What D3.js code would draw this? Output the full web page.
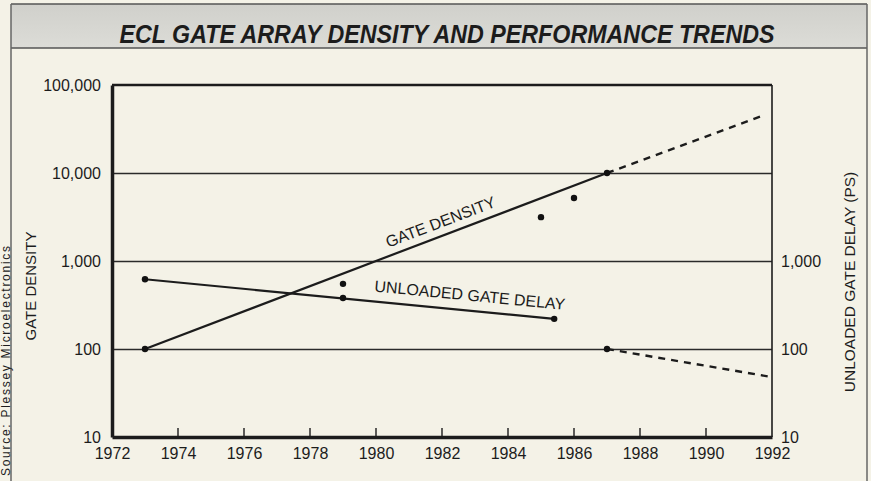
<!DOCTYPE html>
<html>
<head>
<meta charset="utf-8">
<script src="https://cdn.jsdelivr.net/npm/d3@7"></script>
<style>
  html, body { margin: 0; padding: 0; background: #f4f2e7; }
  svg { display: block; }
  text { font-family: "Liberation Sans", Arial, Helvetica, sans-serif; fill: #1c1c1c; }
</style>
</head>
<body>
<svg id="chart" width="871" height="481"></svg>
<script>
// ---- data ----
const yearTicks = [1972, 1974, 1976, 1978, 1980, 1982, 1984, 1986, 1988, 1990, 1992];
const densityTicks = [10, 100, 1000, 10000, 100000];
const delayTicks = [10, 100, 1000];

// gate density (gates per array)
const densityTrend = [[1973, 100], [1987, 10000]];
const densityProjection = [[1987, 10000], [1991.8, 46000]];
const densityPoints = [[1973, 100], [1979, 550], [1985, 3150], [1986, 5200], [1987, 10000]];

// unloaded gate delay (ps)
const delayTrend = [[1973, 620], [1985.4, 220]];
const delayProjection = [[1987, 100], [1992, 48]];
const delayPoints = [[1973, 620], [1979, 380], [1985.4, 220], [1987, 100]];

const titleText = "ECL GATE ARRAY DENSITY AND PERFORMANCE TRENDS";
const sourceText = "Source: Plessey Microelectronics";

// ---- layout ----
const W = 871, H = 481;
const plot = { left: 112, right: 772, top: 85, bottom: 437 };
const ink = "#1c1c1c";
const frameLeft = 11, frameRight = 867;

const svg = d3.select("#chart");

const x = d3.scaleLinear().domain([1972, 1992]).range([plot.left, plot.right]);
const y = d3.scaleLog().domain([10, 100000]).range([plot.bottom, plot.top]);

// background panel and frame
svg.append("rect").attr("width", W).attr("height", H).attr("fill", "#f4f2e7");

const grad = svg.append("defs").append("linearGradient")
  .attr("id", "band").attr("x1", 0).attr("y1", 0).attr("x2", 0).attr("y2", 1);
grad.append("stop").attr("offset", "0%").attr("stop-color", "#d0d0cb");
grad.append("stop").attr("offset", "100%").attr("stop-color", "#dcdcd7");

svg.append("rect").attr("x", frameLeft).attr("y", 4).attr("width", frameRight - frameLeft).attr("height", 44)
  .attr("fill", "url(#band)");
svg.append("line").attr("x1", frameLeft).attr("x2", frameRight).attr("y1", 4).attr("y2", 4)
  .attr("stroke", "#555").attr("stroke-width", 1.5);
svg.append("line").attr("x1", frameLeft).attr("x2", frameRight).attr("y1", 48).attr("y2", 48)
  .attr("stroke", "#555").attr("stroke-width", 1.5);
svg.append("line").attr("x1", frameLeft).attr("x2", frameLeft).attr("y1", 4).attr("y2", H)
  .attr("stroke", "#666").attr("stroke-width", 1.5);
svg.append("line").attr("x1", frameRight).attr("x2", frameRight).attr("y1", 4).attr("y2", H)
  .attr("stroke", "#666").attr("stroke-width", 1.5);

// title
svg.append("text")
  .attr("x", 447).attr("y", 43)
  .attr("text-anchor", "middle")
  .attr("textLength", 655).attr("lengthAdjust", "spacingAndGlyphs")
  .style("font-family", "'Liberation Sans Narrow', 'Arial Narrow', 'Liberation Sans', sans-serif")
  .style("font-size", "25px").style("font-weight", "bold").style("font-style", "italic")
  .attr("fill", "#111")
  .text(titleText);

// source credit along the left edge, outside the frame
svg.append("text")
  .attr("transform", "translate(9.5,246) rotate(-90)")
  .attr("text-anchor", "end")
  .attr("textLength", 230).attr("lengthAdjust", "spacing")
  .style("font-size", "12px")
  .attr("fill", "#777")
  .text(sourceText);

// horizontal decade grid lines
const grid = svg.append("g")
  .attr("transform", `translate(${plot.left},0)`)
  .call(d3.axisLeft(y).tickValues(densityTicks.slice(1, 4)).tickSize(-(plot.right - plot.left)).tickFormat(""));
grid.select(".domain").remove();
grid.selectAll("line").attr("stroke", "#2a2a2a").attr("stroke-width", 1.6);

// top and right borders of the plot
svg.append("line").attr("x1", plot.left).attr("x2", plot.right)
  .attr("y1", plot.top).attr("y2", plot.top).attr("stroke", ink).attr("stroke-width", 2.4);
svg.append("line").attr("x1", plot.right).attr("x2", plot.right)
  .attr("y1", plot.top).attr("y2", plot.bottom).attr("stroke", ink).attr("stroke-width", 1.6);

const tickFont = "16px";

// left axis (gate density)
const leftAxis = svg.append("g")
  .attr("transform", `translate(${plot.left},0)`)
  .call(d3.axisLeft(y).tickValues(densityTicks).tickSize(0).tickPadding(11).tickFormat(d3.format(",")));
leftAxis.select(".domain").attr("stroke", ink).attr("stroke-width", 3.5);
leftAxis.selectAll("text").style("font-size", tickFont).attr("fill", ink)
  .style("font-family", "'Liberation Sans', Arial, sans-serif");

// right axis (unloaded gate delay)
const rightAxis = svg.append("g")
  .attr("transform", `translate(${plot.right},0)`)
  .call(d3.axisRight(y).tickValues(delayTicks).tickSize(0).tickPadding(9).tickFormat(d3.format(",")));
rightAxis.select(".domain").remove();
rightAxis.selectAll("text").style("font-size", tickFont).attr("fill", ink)
  .style("font-family", "'Liberation Sans', Arial, sans-serif");

// bottom axis (year)
const bottomAxis = svg.append("g")
  .attr("transform", `translate(0,${plot.bottom})`)
  .call(d3.axisBottom(x).tickValues(yearTicks).tickSize(0).tickPadding(11).tickFormat(d3.format("d")));
bottomAxis.select(".domain").attr("stroke", ink).attr("stroke-width", 3.5);
bottomAxis.selectAll("text").style("font-size", tickFont).attr("fill", ink)
  .style("font-family", "'Liberation Sans', Arial, sans-serif");
// inward tick marks
svg.append("g").selectAll("line")
  .data(yearTicks.slice(1, -1))
  .join("line")
  .attr("x1", d => x(d)).attr("x2", d => x(d))
  .attr("y1", plot.bottom).attr("y2", plot.bottom - 9)
  .attr("stroke", ink).attr("stroke-width", 1.4);

// axis titles
svg.append("text")
  .attr("transform", "translate(36,286) rotate(-90)")
  .attr("text-anchor", "middle")
  .style("font-size", "15px")
  .text("GATE DENSITY");
svg.append("text")
  .attr("transform", "translate(855,282) rotate(-90)")
  .attr("text-anchor", "middle")
  .style("font-size", "15.5px")
  .text("UNLOADED GATE DELAY (PS)");

// trend lines
const line = d3.line().x(d => x(d[0])).y(d => y(d[1]));
const marks = svg.append("g");
[densityTrend, delayTrend].forEach(seg => {
  marks.append("path").attr("d", line(seg)).attr("fill", "none")
    .attr("stroke", ink).attr("stroke-width", 2.2);
});
[densityProjection, delayProjection].forEach(seg => {
  marks.append("path").attr("d", line(seg)).attr("fill", "none")
    .attr("stroke", ink).attr("stroke-width", 2.4).attr("stroke-dasharray", "7,6");
});

// measured points
marks.selectAll("circle.density").data(densityPoints).join("circle")
  .attr("class", "density")
  .attr("cx", d => x(d[0])).attr("cy", d => y(d[1])).attr("r", 3.2).attr("fill", "#111");
marks.selectAll("circle.delay").data(delayPoints).join("circle")
  .attr("class", "delay")
  .attr("cx", d => x(d[0])).attr("cy", d => y(d[1])).attr("r", 3.2).attr("fill", "#111");

// labels running along the trend lines
function lineLabel(seg, year, offset, txt) {
  const [a, b] = seg;
  const ang = Math.atan2(y(b[1]) - y(a[1]), x(b[0]) - x(a[0])) * 180 / Math.PI;
  const t = (year - a[0]) / (b[0] - a[0]);
  const v = Math.pow(10, Math.log10(a[1]) + t * (Math.log10(b[1]) - Math.log10(a[1])));
  svg.append("text")
    .attr("transform", `translate(${x(year)},${y(v)}) rotate(${ang}) translate(0,${offset})`)
    .attr("text-anchor", "middle")
    .style("font-size", "16px")
    .text(txt);
}
lineLabel(densityTrend, 1982.1, -8, "GATE DENSITY");
lineLabel(delayTrend, 1982.8, -10, "UNLOADED GATE DELAY");
</script>
</body>
</html>
